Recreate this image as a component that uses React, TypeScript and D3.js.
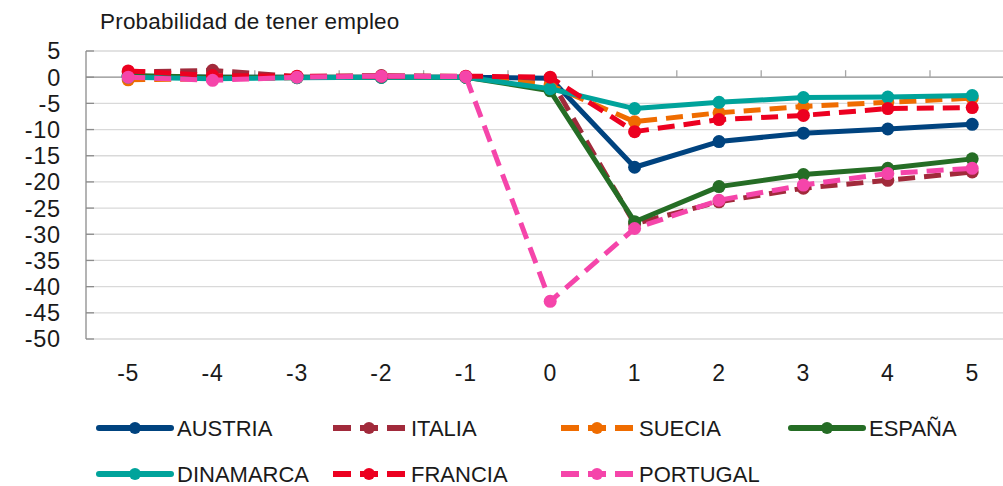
import React, { useRef, useEffect } from "react";
import * as d3 from "d3";

// Años relativos al evento
const periods = ["-5", "-4", "-3", "-2", "-1", "0", "1", "2", "3", "4", "5"];
const yTicks = [5, 0, -5, -10, -15, -20, -25, -30, -35, -40, -45, -50];

const austria = [0.2, 0, 0, 0, 0, -0.2, -17.2, -12.3, -10.7, -9.9, -9.0];
const italia = [1.0, 1.3, 0.1, 0.3, 0.1, -0.3, -28.0, -23.8, -21.2, -19.7, -18.1];
const suecia = [-0.5, -0.3, -0.1, 0.1, 0, -1.5, -8.5, -6.8, -5.6, -4.8, -4.0];
const espana = [0.3, 0, 0, 0, 0, -2.6, -27.6, -20.9, -18.6, -17.4, -15.6];
const dinamarca = [0, -0.3, -0.1, 0, 0, -2.2, -6.0, -4.8, -3.9, -3.8, -3.5];
const francia = [1.2, 0.3, 0.2, 0.2, 0.2, 0, -10.4, -8.1, -7.3, -6.0, -5.8];
const portugal = [0, -0.6, 0, 0.2, 0.1, -42.8, -28.9, -23.5, -20.6, -18.4, -17.4];

interface Series {
  name: string;
  values: number[];
  color: string;
  dashed: boolean;
}

const series: Series[] = [
  { name: "AUSTRIA", values: austria, color: "#00437f", dashed: false },
  { name: "ITALIA", values: italia, color: "#a12a3b", dashed: true },
  { name: "SUECIA", values: suecia, color: "#ef6c00", dashed: true },
  { name: "ESPAÑA", values: espana, color: "#256d25", dashed: false },
  { name: "DINAMARCA", values: dinamarca, color: "#00a39b", dashed: false },
  { name: "FRANCIA", values: francia, color: "#ec0020", dashed: true },
  { name: "PORTUGAL", values: portugal, color: "#f545aa", dashed: true },
];

export default function App() {
  const svgRef = useRef<SVGSVGElement | null>(null);

  useEffect(() => {
    const width = 1003;
    const height = 486;
    const font = "'Liberation Sans', Arial, Helvetica, sans-serif";
    const textColor = "#1a1a1a";

    const svg = d3.select(svgRef.current);
    svg.selectAll("*").remove();
    svg.attr("width", width).attr("height", height);

    // plot area (the last band runs past the right edge, as in the original)
    const left = 86;
    const step = 84.4;
    const x = d3
      .scaleBand<string>()
      .domain(periods)
      .range([left, left + step * periods.length]);
    const cx = (p: string) => (x(p) as number) + x.bandwidth() / 2;

    const y = d3.scaleLinear().domain([-50, 5]).range([339, 51]);

    // title
    svg
      .append("text")
      .attr("x", 100)
      .attr("y", 29)
      .attr("font-family", font)
      .attr("font-size", 22.5)
      .attr("letter-spacing", 0.2)
      .attr("fill", textColor)
      .text("Probabilidad de tener empleo");

    // grid lines
    svg
      .append("g")
      .selectAll("line")
      .data(yTicks.filter(d => d !== 0))
      .enter()
      .append("line")
      .attr("x1", left)
      .attr("x2", width)
      .attr("y1", d => y(d))
      .attr("y2", d => y(d))
      .attr("stroke", "#d9d9d9")
      .attr("stroke-width", 1.3);

    // y axis line + inner ticks
    svg
      .append("line")
      .attr("x1", left)
      .attr("x2", left)
      .attr("y1", y(5))
      .attr("y2", y(-50))
      .attr("stroke", "#8c8c8c")
      .attr("stroke-width", 1.3);
    svg
      .append("g")
      .selectAll("line")
      .data(yTicks)
      .enter()
      .append("line")
      .attr("x1", left)
      .attr("x2", left + 8)
      .attr("y1", d => y(d))
      .attr("y2", d => y(d))
      .attr("stroke", "#8c8c8c")
      .attr("stroke-width", 1.3);

    // y labels
    svg
      .append("g")
      .selectAll("text")
      .data(yTicks)
      .enter()
      .append("text")
      .attr("x", 61)
      .attr("y", d => y(d))
      .attr("dy", "0.36em")
      .attr("text-anchor", "end")
      .attr("font-family", font)
      .attr("font-size", 23.5)
      .attr("letter-spacing", 0.8)
      .attr("fill", textColor)
      .text(d => String(d));

    // category axis at zero with tick marks going up
    svg
      .append("line")
      .attr("x1", left)
      .attr("x2", width)
      .attr("y1", y(0))
      .attr("y2", y(0))
      .attr("stroke", "#8c8c8c")
      .attr("stroke-width", 1.3);
    svg
      .append("g")
      .selectAll("line")
      .data(periods.slice(1))
      .enter()
      .append("line")
      .attr("x1", d => x(d) as number)
      .attr("x2", d => x(d) as number)
      .attr("y1", y(0))
      .attr("y2", y(0) - 7)
      .attr("stroke", "#a6a6a6")
      .attr("stroke-width", 1.3);

    // x labels (low position)
    svg
      .append("g")
      .selectAll("text")
      .data(periods)
      .enter()
      .append("text")
      .attr("x", d => cx(d))
      .attr("y", 381)
      .attr("text-anchor", "middle")
      .attr("font-family", font)
      .attr("font-size", 23)
      .attr("letter-spacing", 0.8)
      .attr("fill", textColor)
      .text(d => d);

    // series
    const line = d3
      .line<number>()
      .x((_, i) => cx(periods[i]))
      .y(d => y(d));

    series.forEach(s => {
      const g = svg.append("g");
      g.append("path")
        .datum(s.values)
        .attr("fill", "none")
        .attr("stroke", s.color)
        .attr("stroke-width", 5)
        .attr("stroke-linejoin", "round")
        .attr("stroke-dasharray", s.dashed ? "17,9" : null)
        .attr("d", line);
      g.selectAll("circle")
        .data(s.values)
        .enter()
        .append("circle")
        .attr("cx", (_, i) => cx(periods[i]))
        .attr("cy", d => y(d))
        .attr("r", 6.5)
        .attr("fill", s.color);
    });

    // legend
    const legendCols = [99, 333, 561, 791];
    const legendRows = [428, 474];
    const legend = svg.append("g");
    series.forEach((s, i) => {
      const lx = legendCols[i % 4];
      const ly = legendRows[Math.floor(i / 4)];
      const item = legend.append("g").attr("transform", `translate(${lx},${ly})`);
      item
        .append("line")
        .attr("x1", 0)
        .attr("x2", 72)
        .attr("y1", 0)
        .attr("y2", 0)
        .attr("stroke", s.color)
        .attr("stroke-width", 6)
        .attr("stroke-linecap", s.dashed ? "butt" : "round")
        .attr("stroke-dasharray", s.dashed ? "18,9" : null);
      item
        .append("circle")
        .attr("cx", 36)
        .attr("cy", 0)
        .attr("r", 6)
        .attr("fill", s.color);
      item
        .append("text")
        .attr("x", 78)
        .attr("y", 8)
        .attr("font-family", font)
        .attr("font-size", 22)
        .attr("fill", textColor)
        .text(s.name);
    });
  }, []);

  return (
    <div style={{ position: "fixed", left: 0, top: 0, background: "#fff" }}>
      <svg ref={svgRef} style={{ display: "block" }}></svg>
    </div>
  );
}
